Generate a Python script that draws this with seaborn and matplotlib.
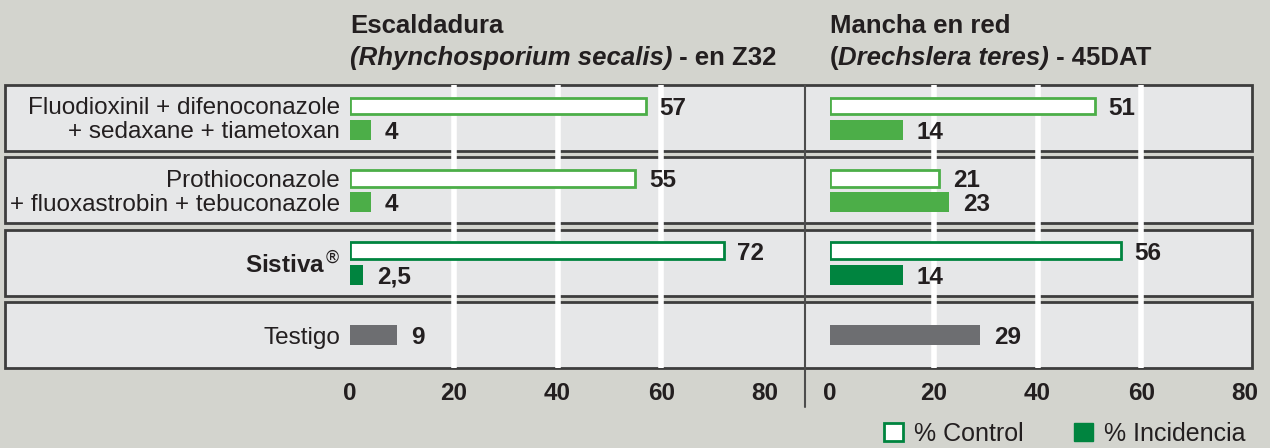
import matplotlib
matplotlib.use("Agg")
import matplotlib.pyplot as plt
from matplotlib.patches import Rectangle, Patch
from matplotlib.lines import Line2D
from matplotlib.transforms import blended_transform_factory
import pandas as pd
import seaborn as sns

# --- data ---
row_keys = ["fludioxonil", "prothioconazole", "sistiva", "testigo"]
row_labels = [
    "Fluodioxinil + difenoconazole\n+ sedaxane + tiametoxan",
    "Prothioconazole\n+ fluoxastrobin + tebuconazole",
    "Sistiva$^{®}$",
    "Testigo",
]
escaldadura_control = [57, 55, 72, None]
escaldadura_incidencia = [4, 4, 2.5, 9]
mancha_control = [51, 21, 56, None]
mancha_incidencia = [14, 23, 14, 29]
x_ticks = [0, 20, 40, 60, 80]

titles = {
    "escaldadura": ["Escaldadura", [("(Rhynchosporium secalis)", "italic"), (" - en Z32", "normal")]],
    "mancha": ["Mancha en red", [("(", "normal"), ("Drechslera teres)", "italic"), (" - 45DAT", "normal")]],
}

# --- style ---
W, H = 1270, 448
BG = "#d3d4ce"
BOX = "#e6e7e8"
EDGE = "#3d3d3d"
LIGHT = "#4cae48"
DARK = "#00843f"
GREY = "#6d6e71"
TXT = "#231f20"
row_colors = {"fludioxonil": LIGHT, "prothioconazole": LIGHT, "sistiva": DARK, "testigo": GREY}
FS = 17.5

sns.set_style("white")
plt.rcParams["font.family"] = ["Liberation Sans", "DejaVu Sans"]

# long-form table
records = []
for panel, ctrl, inc in [("escaldadura", escaldadura_control, escaldadura_incidencia),
                         ("mancha", mancha_control, mancha_incidencia)]:
    for i, key in enumerate(row_keys):
        if ctrl[i] is not None:
            records.append((panel, key, i, "control", ctrl[i], i - 0.165))
            records.append((panel, key, i, "incidencia", inc[i], i + 0.165))
        else:
            records.append((panel, key, i, "testigo", inc[i], i))
df = pd.DataFrame(records, columns=["panel", "row", "idx", "measure", "value", "pos"])

fig = plt.figure(figsize=(W / 100, H / 100), dpi=100, facecolor=BG)
ax_top, ax_bot = 85, 368


def px_axes(left, width):
    return fig.add_axes([left / W, 1 - ax_bot / H, width / W, (ax_bot - ax_top) / H])


axL = px_axes(350, 415)
axR = px_axes(830, 415)
half = 0.454

# row boxes spanning the whole width
blend = blended_transform_factory(fig.transFigure, axL.transData)
for i in range(len(row_keys)):
    axL.add_artist(Rectangle((5 / W, i - half), 1247 / W, 2 * half, transform=blend,
                             facecolor=BOX, edgecolor=EDGE, lw=2, clip_on=False, zorder=0.5))


def fmt(v):
    return f"{v:g}".replace(".", ",")


def draw_series(ax, sub, height, outline=False):
    n_before = len(ax.patches)
    sns.barplot(data=sub, x="value", y="pos", hue="row", palette=row_colors,
                orient="y", native_scale=True, dodge=False, width=height,
                errorbar=None, saturation=1, linewidth=0, legend=False, ax=ax, zorder=2)
    if outline:
        for p in ax.patches[n_before:]:
            p.set_edgecolor(p.get_facecolor())
            p.set_facecolor("white")
            p.set_linewidth(2)
    for _, r in sub.iterrows():
        ax.annotate(fmt(r["value"]), xy=(r["value"], r["pos"]), xytext=(14, 0),
                    textcoords="offset pixels", ha="left", va="center_baseline",
                    fontsize=FS, fontweight="bold", color=TXT)


for ax, panel in [(axL, "escaldadura"), (axR, "mancha")]:
    ax.set_facecolor("none")
    for v in x_ticks[1:-1]:
        ax.axvline(v, color="white", lw=4, zorder=1)
    sub = df[df["panel"] == panel]
    draw_series(ax, sub[sub["measure"] == "control"], 0.23, outline=True)
    draw_series(ax, sub[sub["measure"] == "incidencia"], 0.28)
    draw_series(ax, sub[sub["measure"] == "testigo"], 0.28)
    ax.set_xlim(0, 80)
    ax.set_ylim(len(row_keys) - 1 + half, -half)
    ax.set_xticks(x_ticks)
    ax.set_xticklabels([str(t) for t in x_ticks], fontweight="bold", fontsize=FS, color=TXT)
    ax.set_yticks([])
    ax.tick_params(axis="x", length=0, pad=10)
    ax.set_xlabel("")
    ax.set_ylabel("")
    for s in ax.spines.values():
        s.set_visible(False)

    # titles
    head, pieces = titles[panel]
    x0 = ax.get_position().x0
    fig.text(x0, 1 - 33 / H, head, fontsize=18.5, fontweight="bold", color=TXT, va="baseline")
    prev = None
    for txt, style in pieces:
        if prev is None:
            prev = fig.text(x0, 1 - 70 / H, txt, fontsize=18.5, fontweight="bold",
                            style=style, color=TXT, va="bottom")
        else:
            prev = ax.annotate(txt, xy=(1, 0), xycoords=prev, fontsize=18.5, fontweight="bold",
                               style=style, color=TXT, va="bottom", ha="left",
                               annotation_clip=False)

# row labels
for i, label in enumerate(row_labels):
    lines = label.split("\n")
    weight = "bold" if row_keys[i] == "sistiva" else "normal"
    ys = [i - 0.165, i + 0.165] if len(lines) == 2 else [i]
    for line, y in zip(lines, ys):
        axL.annotate(line, xy=(0, y), xycoords=("axes fraction", "data"), xytext=(-10, 0),
                     textcoords="offset pixels", ha="right", va="center_baseline",
                     fontsize=FS, fontweight=weight, color=TXT, annotation_clip=False)

# divider between the two panels
fig.add_artist(Line2D([805 / W, 805 / W], [1 - 85 / H, 1 - 407 / H], transform=fig.transFigure,
                      color="#4d4d4d", lw=1.5, zorder=3))

handles = [Patch(facecolor="white", edgecolor=DARK, lw=2, label="% Control"),
           Patch(facecolor=DARK, edgecolor=DARK, label="% Incidencia")]
fig.legend(handles=handles, loc="lower right", bbox_to_anchor=(1268 / W, -0.045), ncol=2,
           frameon=False, fontsize=18, handlelength=0.75, handleheight=0.75,
           handletextpad=0.45, columnspacing=2.0, labelcolor=TXT)

fig.savefig("out.png", dpi=100, facecolor=fig.get_facecolor())
